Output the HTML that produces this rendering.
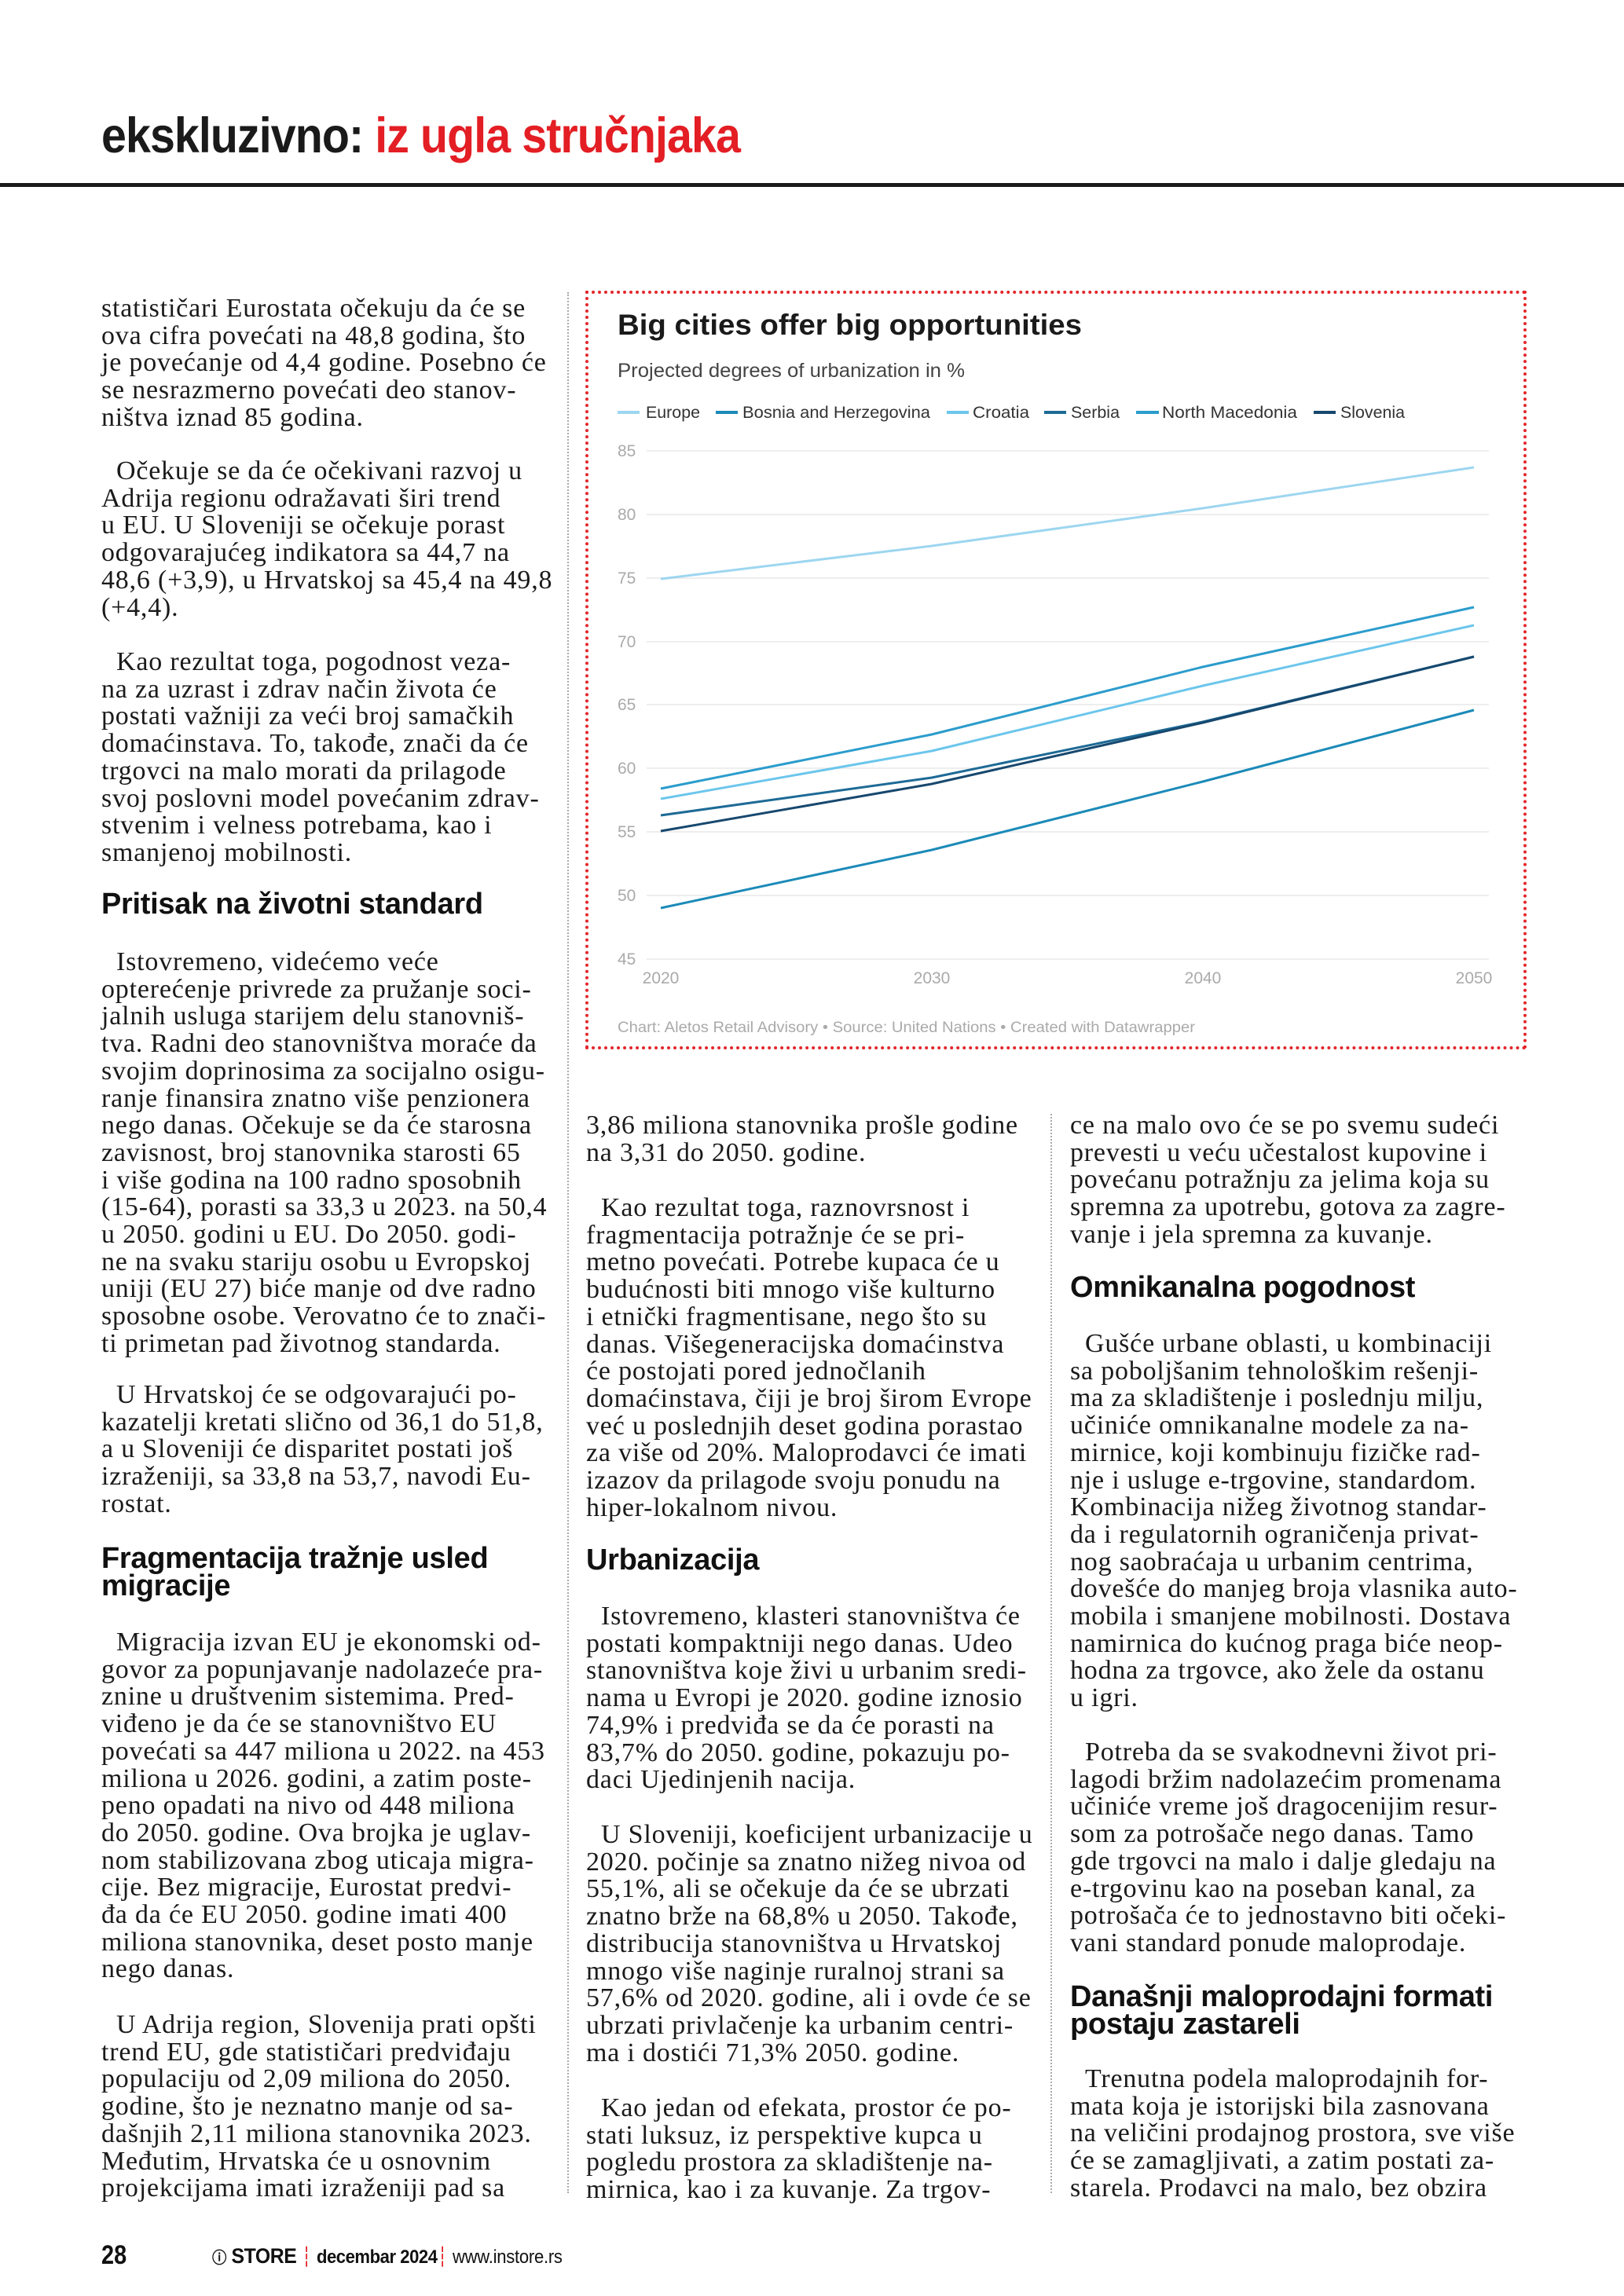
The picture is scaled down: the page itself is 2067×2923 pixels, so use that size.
<!DOCTYPE html>
<html><head><meta charset="utf-8">
<style>
html,body{margin:0;padding:0;background:#fff;}
body{width:2067px;height:2923px;position:relative;overflow:hidden;}
.t{position:absolute;font-family:"Liberation Serif",serif;font-size:34px;letter-spacing:0.8px;line-height:34.7px;color:#1a1a1a;white-space:nowrap;}
.t .i{padding-left:19px;}
.h{position:absolute;font-family:"Liberation Sans",sans-serif;font-weight:bold;font-size:38px;line-height:35px;color:#111;white-space:nowrap;letter-spacing:-0.3px;}
.vd{position:absolute;width:0;border-left:2px dotted #aaa;}
</style></head><body>

<div style="position:absolute;left:129px;top:138px;font-family:'Liberation Sans',sans-serif;font-weight:bold;font-size:63px;line-height:70px;white-space:nowrap;transform:scaleX(0.91);transform-origin:left top;letter-spacing:-1px;"><span style="color:#1a1a1a">ekskluzivno:</span> <span style="color:#e31e24">iz ugla stručnjaka</span></div>
<div style="position:absolute;left:0;top:233px;width:2067px;height:5px;background:#1a1a1a;"></div>

<div class="vd" style="left:722px;top:372px;height:2420px;"></div>
<div class="vd" style="left:1337px;top:1418px;height:1374px;"></div>

<!-- chart -->
<div style="position:absolute;left:745px;top:370px;width:1190px;height:958px;border:4px dotted #e3262b;"></div>
<svg style="position:absolute;left:0;top:0" width="2067" height="1400" font-family="Liberation Sans, sans-serif">
<text x="786" y="426" font-size="37" font-weight="bold" fill="#1a1a1a" textLength="591" lengthAdjust="spacingAndGlyphs">Big cities offer big opportunities</text>
<text x="786" y="480" font-size="25" fill="#444" textLength="442" lengthAdjust="spacingAndGlyphs">Projected degrees of urbanization in %</text>
<g font-size="21" fill="#333">
<line x1="786" y1="525" x2="814" y2="525" stroke="#9dd6f0" stroke-width="4"/><text x="822" y="532" textLength="69" lengthAdjust="spacingAndGlyphs">Europe</text>
<line x1="911" y1="525" x2="939" y2="525" stroke="#1b8ab8" stroke-width="4"/><text x="945" y="532" textLength="239" lengthAdjust="spacingAndGlyphs">Bosnia and Herzegovina</text>
<line x1="1205" y1="525" x2="1233" y2="525" stroke="#6cc6ec" stroke-width="4"/><text x="1238" y="532" textLength="72" lengthAdjust="spacingAndGlyphs">Croatia</text>
<line x1="1329" y1="525" x2="1357" y2="525" stroke="#1d6a96" stroke-width="4"/><text x="1363" y="532" textLength="62" lengthAdjust="spacingAndGlyphs">Serbia</text>
<line x1="1446" y1="525" x2="1475" y2="525" stroke="#2b9ccc" stroke-width="4"/><text x="1479" y="532" textLength="172" lengthAdjust="spacingAndGlyphs">North Macedonia</text>
<line x1="1672" y1="525" x2="1700" y2="525" stroke="#17486e" stroke-width="4"/><text x="1706" y="532" textLength="82" lengthAdjust="spacingAndGlyphs">Slovenia</text>
</g>
<g stroke="#eeeeee" stroke-width="2">
<line x1="823" y1="574" x2="1895" y2="574"/><line x1="823" y1="655" x2="1895" y2="655"/><line x1="823" y1="736" x2="1895" y2="736"/><line x1="823" y1="817" x2="1895" y2="817"/><line x1="823" y1="897" x2="1895" y2="897"/><line x1="823" y1="978" x2="1895" y2="978"/><line x1="823" y1="1059" x2="1895" y2="1059"/><line x1="823" y1="1140" x2="1895" y2="1140"/><line x1="823" y1="1221" x2="1895" y2="1221"/>
</g>
<g font-size="21" fill="#aaa">
<text x="786" y="581">85</text><text x="786" y="662">80</text><text x="786" y="743">75</text><text x="786" y="824">70</text><text x="786" y="904">65</text><text x="786" y="985">60</text><text x="786" y="1066">55</text><text x="786" y="1147">50</text><text x="786" y="1228">45</text>
</g>
<g font-size="21" fill="#aaa" text-anchor="middle">
<text x="841" y="1252">2020</text><text x="1186" y="1252">2030</text><text x="1531" y="1252">2040</text><text x="1876" y="1252">2050</text>
</g>
<g fill="none" stroke-width="3" stroke-linejoin="round">
<polyline stroke="#9dd6f0" points="841,737 1186,695 1531,647 1876,595"/>
<polyline stroke="#1b8ab8" points="841,1156 1186,1082 1531,995 1876,904"/>
<polyline stroke="#6cc6ec" points="841,1017 1186,956 1531,873 1876,796"/>
<polyline stroke="#2b9ccc" points="841,1004 1186,935 1531,849 1876,773"/>
<polyline stroke="#1d6a96" points="841,1038 1186,990 1531,919 1876,836"/>
<polyline stroke="#17486e" points="841,1058 1186,998 1531,920 1876,836"/>
</g>
<text x="786" y="1314" font-size="19" fill="#aaa" textLength="735" lengthAdjust="spacingAndGlyphs">Chart: Aletos Retail Advisory • Source: United Nations • Created with Datawrapper</text>
</svg>

<!-- left column -->
<div class="t" style="left:129px;top:376px;">statističari Eurostata očekuju da će se<br>ova cifra povećati na 48,8 godina, što<br>je povećanje od 4,4 godine. Posebno će<br>se nesrazmerno povećati deo stanov-<br>ništva iznad 85 godina.</div>
<div class="t" style="left:129px;top:583px;"><span class="i">Očekuje se da će očekivani razvoj u</span><br>Adrija regionu odražavati širi trend<br>u EU. U Sloveniji se očekuje porast<br>odgovarajućeg indikatora sa 44,7 na<br>48,6 (+3,9), u Hrvatskoj sa 45,4 na 49,8<br>(+4,4).</div>
<div class="t" style="left:129px;top:826px;"><span class="i">Kao rezultat toga, pogodnost veza-</span><br>na za uzrast i zdrav način života će<br>postati važniji za veći broj samačkih<br>domaćinstava. To, takođe, znači da će<br>trgovci na malo morati da prilagode<br>svoj poslovni model povećanim zdrav-<br>stvenim i velness potrebama, kao i<br>smanjenoj mobilnosti.</div>
<div class="h" style="left:129px;top:1134px;">Pritisak na životni standard</div>
<div class="t" style="left:129px;top:1208px;"><span class="i">Istovremeno, videćemo veće</span><br>opterećenje privrede za pružanje soci-<br>jalnih usluga starijem delu stanovniš-<br>tva. Radni deo stanovništva moraće da<br>svojim doprinosima za socijalno osigu-<br>ranje finansira znatno više penzionera<br>nego danas. Očekuje se da će starosna<br>zavisnost, broj stanovnika starosti 65<br>i više godina na 100 radno sposobnih<br>(15-64), porasti sa 33,3 u 2023. na 50,4<br>u 2050. godini u EU. Do 2050. godi-<br>ne na svaku stariju osobu u Evropskoj<br>uniji (EU 27) biće manje od dve radno<br>sposobne osobe. Verovatno će to znači-<br>ti primetan pad životnog standarda.</div>
<div class="t" style="left:129px;top:1759px;"><span class="i">U Hrvatskoj će se odgovarajući po-</span><br>kazatelji kretati slično od 36,1 do 51,8,<br>a u Sloveniji će disparitet postati još<br>izraženiji, sa 33,8 na 53,7, navodi Eu-<br>rostat.</div>
<div class="h" style="left:129px;top:1967px;">Fragmentacija tražnje usled<br>migracije</div>
<div class="t" style="left:129px;top:2074px;"><span class="i">Migracija izvan EU je ekonomski od-</span><br>govor za popunjavanje nadolazeće pra-<br>znine u društvenim sistemima. Pred-<br>viđeno je da će se stanovništvo EU<br>povećati sa 447 miliona u 2022. na 453<br>miliona u 2026. godini, a zatim poste-<br>peno opadati na nivo od 448 miliona<br>do 2050. godine. Ova brojka je uglav-<br>nom stabilizovana zbog uticaja migra-<br>cije. Bez migracije, Eurostat predvi-<br>đa da će EU 2050. godine imati 400<br>miliona stanovnika, deset posto manje<br>nego danas.</div>
<div class="t" style="left:129px;top:2561px;"><span class="i">U Adrija region, Slovenija prati opšti</span><br>trend EU, gde statističari predviđaju<br>populaciju od 2,09 miliona do 2050.<br>godine, što je neznatno manje od sa-<br>dašnjih 2,11 miliona stanovnika 2023.<br>Međutim, Hrvatska će u osnovnim<br>projekcijama imati izraženiji pad sa</div>

<!-- middle column -->
<div class="t" style="left:746px;top:1416px;">3,86 miliona stanovnika prošle godine<br>na 3,31 do 2050. godine.</div>
<div class="t" style="left:746px;top:1521px;"><span class="i">Kao rezultat toga, raznovrsnost i</span><br>fragmentacija potražnje će se pri-<br>metno povećati. Potrebe kupaca će u<br>budućnosti biti mnogo više kulturno<br>i etnički fragmentisane, nego što su<br>danas. Višegeneracijska domaćinstva<br>će postojati pored jednočlanih<br>domaćinstava, čiji je broj širom Evrope<br>već u poslednjih deset godina porastao<br>za više od 20%. Maloprodavci će imati<br>izazov da prilagode svoju ponudu na<br>hiper-lokalnom nivou.</div>
<div class="h" style="left:746px;top:1969px;">Urbanizacija</div>
<div class="t" style="left:746px;top:2041px;"><span class="i">Istovremeno, klasteri stanovništva će</span><br>postati kompaktniji nego danas. Udeo<br>stanovništva koje živi u urbanim sredi-<br>nama u Evropi je 2020. godine iznosio<br>74,9% i predviđa se da će porasti na<br>83,7% do 2050. godine, pokazuju po-<br>daci Ujedinjenih nacija.</div>
<div class="t" style="left:746px;top:2319px;"><span class="i">U Sloveniji, koeficijent urbanizacije u</span><br>2020. počinje sa znatno nižeg nivoa od<br>55,1%, ali se očekuje da će se ubrzati<br>znatno brže na 68,8% u 2050. Takođe,<br>distribucija stanovništva u Hrvatskoj<br>mnogo više naginje ruralnoj strani sa<br>57,6% od 2020. godine, ali i ovde će se<br>ubrzati privlačenje ka urbanim centri-<br>ma i dostići 71,3% 2050. godine.</div>
<div class="t" style="left:746px;top:2667px;"><span class="i">Kao jedan od efekata, prostor će po-</span><br>stati luksuz, iz perspektive kupca u<br>pogledu prostora za skladištenje na-<br>mirnica, kao i za kuvanje. Za trgov-</div>

<!-- right column -->
<div class="t" style="left:1362px;top:1416px;">ce na malo ovo će se po svemu sudeći<br>prevesti u veću učestalost kupovine i<br>povećanu potražnju za jelima koja su<br>spremna za upotrebu, gotova za zagre-<br>vanje i jela spremna za kuvanje.</div>
<div class="h" style="left:1362px;top:1622px;">Omnikanalna pogodnost</div>
<div class="t" style="left:1362px;top:1694px;"><span class="i">Gušće urbane oblasti, u kombinaciji</span><br>sa poboljšanim tehnološkim rešenji-<br>ma za skladištenje i poslednju milju,<br>učiniće omnikanalne modele za na-<br>mirnice, koji kombinuju fizičke rad-<br>nje i usluge e-trgovine, standardom.<br>Kombinacija nižeg životnog standar-<br>da i regulatornih ograničenja privat-<br>nog saobraćaja u urbanim centrima,<br>dovešće do manjeg broja vlasnika auto-<br>mobila i smanjene mobilnosti. Dostava<br>namirnica do kućnog praga biće neop-<br>hodna za trgovce, ako žele da ostanu<br>u igri.</div>
<div class="t" style="left:1362px;top:2214px;"><span class="i">Potreba da se svakodnevni život pri-</span><br>lagodi bržim nadolazećim promenama<br>učiniće vreme još dragocenijim resur-<br>som za potrošače nego danas. Tamo<br>gde trgovci na malo i dalje gledaju na<br>e-trgovinu kao na poseban kanal, za<br>potrošača će to jednostavno biti očeki-<br>vani standard ponude maloprodaje.</div>
<div class="h" style="left:1362px;top:2525px;">Današnji maloprodajni formati<br>postaju zastareli</div>
<div class="t" style="left:1362px;top:2630px;"><span class="i">Trenutna podela maloprodajnih for-</span><br>mata koja je istorijski bila zasnovana<br>na veličini prodajnog prostora, sve više<br>će se zamagljivati, a zatim postati za-<br>starela. Prodavci na malo, bez obzira</div>

<!-- footer -->
<div style="position:absolute;left:129px;top:2853px;font-family:'Liberation Sans',sans-serif;font-weight:bold;font-size:34px;line-height:36px;color:#111;transform:scaleX(0.85);transform-origin:left top;">28</div>
<div style="position:absolute;left:270px;top:2856px;font-family:'Liberation Sans',sans-serif;font-size:24px;line-height:32px;color:#111;white-space:nowrap;transform:scaleX(0.92);transform-origin:left top;">
<span style="display:inline-block;font-size:20px;font-weight:bold;">ⓘ</span>
<span style="font-weight:bold;font-size:27px;letter-spacing:-0.5px;">STORE</span>
<span style="color:#e31e24;">┆</span>
<span style="font-weight:bold;letter-spacing:-0.5px;">decembar 2024</span><span style="color:#e31e24;">┆</span>
<span style="letter-spacing:-0.3px;">www.instore.rs</span></div>
</body></html>
